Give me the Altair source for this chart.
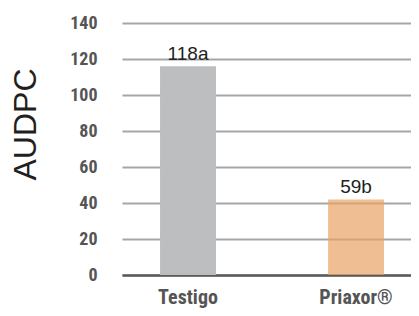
import altair as alt
import pandas as pd

categories = ["Testigo", "Priaxor\u00ae"]
values = [116, 42]
labels = ["118a", "59b"]
colors = ["#BDBEC0", "#E8A465"]
opacities = [1.0, 0.7]
y_ticks = [0, 20, 40, 60, 80, 100, 120, 140]

df = pd.DataFrame({"cat": categories, "val": values, "lab": labels,
                   "col": colors, "op": opacities})

cond_font = "Liberation Sans Narrow, Roboto Condensed, DejaVu Sans Condensed, sans-serif"

x = alt.X("cat:N", sort=categories, title=None,
          scale=alt.Scale(paddingInner=0.667, paddingOuter=0.1935, align=0.585),
          axis=alt.Axis(labelAngle=0, labelFont=cond_font, labelFontSize=20,
                        labelFontWeight="bold", labelColor="#555555", labelPadding=12,
                        ticks=False, domainColor="#5A5A5A", domainWidth=2.5, grid=False))

y = alt.Y("val:Q", scale=alt.Scale(domain=[0, 140], nice=False),
          axis=alt.Axis(values=y_ticks, title="AUDPC",
                        labelOverlap=False,
                        domain=False, ticks=False, grid=True, gridColor="#A6A6A6",
                        gridWidth=2, labelFont=cond_font, labelFontSize=18,
                        labelFontWeight="bold", labelColor="#555555", labelPadding=25,
                        titleFont="Liberation Sans, Arial, sans-serif", titleFontSize=32,
                        titleFontWeight="normal", titleColor="#231F20", titleAngle=-90,
                        titleAlign="center", titleBaseline="alphabetic",
                        titleX=-87, titleY=101))

base = alt.Chart(df).encode(x=x, y=y)

bars = base.mark_bar().encode(
    color=alt.Color("col:N", scale=None),
    opacity=alt.Opacity("op:Q", scale=None),
)

text = base.mark_text(baseline="alphabetic", dy=-6, fontSize=19,
                      font="Liberation Sans, Arial, sans-serif",
                      color="#231F20").encode(text="lab:N")

chart = (bars + text).properties(
    width=289, height=252,
    autosize=alt.AutoSizeParams(type="none"),
    padding={"left": 114, "top": 15, "right": 0, "bottom": 33},
).configure_view(stroke=None)

chart.save("out.html", embed_options={"renderer": "svg", "actions": False})
